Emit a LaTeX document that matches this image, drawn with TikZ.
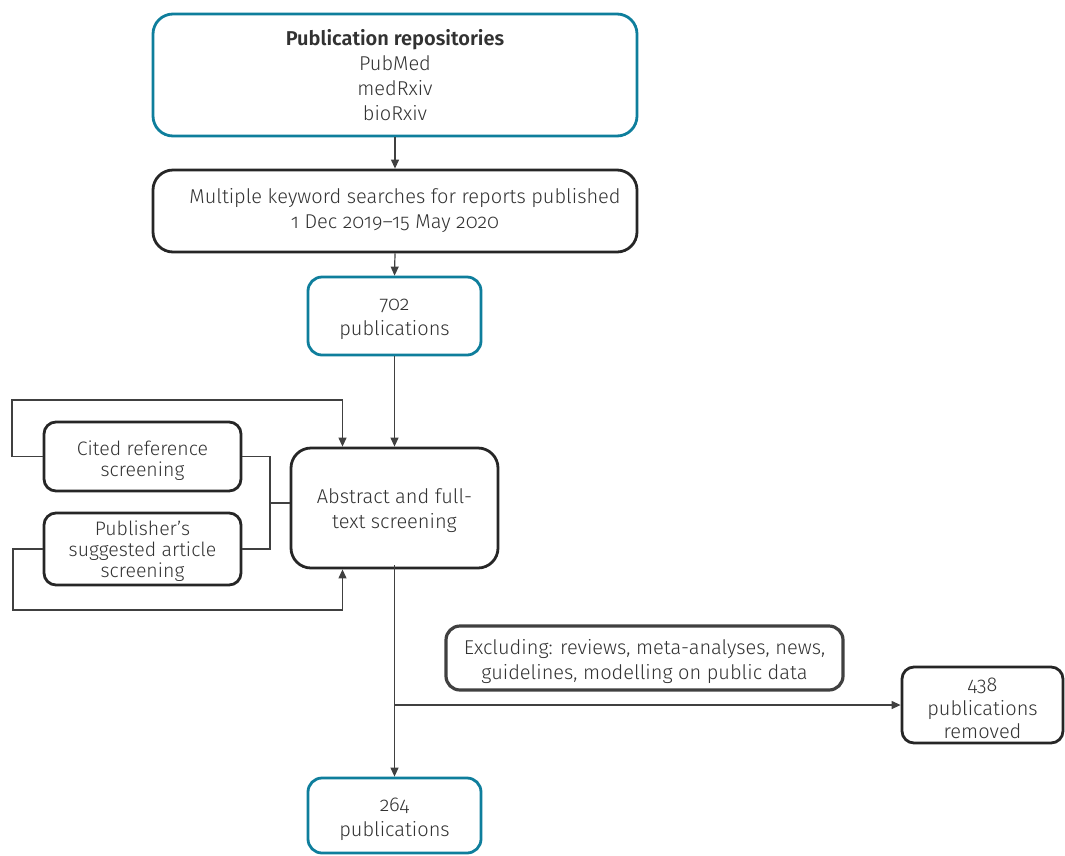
\documentclass[tikz,border=0pt]{standalone}
\usepackage{fontspec}
\setmainfont{Fira Sans Light}[BoldFont={Fira Sans SemiBold},Numbers=OldStyle]
\usetikzlibrary{arrows.meta}
\definecolor{teal1}{RGB}{14,126,156}
\definecolor{txt}{RGB}{50,50,50}
\definecolor{ln}{RGB}{64,64,64}
\newcommand\lw[1][21pt]{\rule{0pt}{#1}}
\tikzset{
  base/.style={draw, rounded corners=20pt, line width=2.8pt, align=center, inner sep=0pt, text=txt,
    font=\fontsize{20}{25}\selectfont},
  tealbox/.style={base, draw=teal1},
  blackbox/.style={base, draw=black!85},
  smallbox/.style={base, draw=black!85, rounded corners=12pt, font=\fontsize{19.5}{21}\selectfont},
  graybox/.style={base, draw=ln, line width=3.2pt, rounded corners=14pt},
  conn/.style={draw=ln, line width=1.2pt},
  arr/.style={conn, -{Triangle[length=9pt,width=8pt]}}
}
\begin{document}
\begin{tikzpicture}[x=1pt,y=-1pt]
\useasboundingbox (0,0) rectangle (1065,855);
\node[tealbox, minimum width=484, minimum height=122] (repo) at (395,75)
  {\textbf{Publication repositories}\\PubMed\\medRxiv\\bioRxiv};
\node[blackbox, minimum width=484, minimum height=82] (kw) at (395,211)
  {\hspace*{20pt}Multiple keyword searches for reports published\\1 Dec 2019--15 May 2020};
\node[tealbox, minimum width=173, minimum height=78, rounded corners=14pt] (p702) at (394.5,316)
  {\lw[19pt]702\\publications};
\node[smallbox, minimum width=197, minimum height=69] (cited) at (142.5,456.5)
  {\lw[22pt]Cited reference\\screening};
\node[smallbox, minimum width=197, minimum height=72] (pub) at (142.5,549)
  {\lw[19pt]Publisher’s\\suggested article\\screening};
\node[blackbox, minimum width=207, minimum height=120] (abs) at (394.5,508)
  {\lw Abstract and full-\\text screening};
\node[graybox, minimum width=397, minimum height=64] (excl) at (644.5,658)
  {\lw[22pt]Excluding: reviews, meta-analyses, news,\\guidelines, modelling on public data};
\node[smallbox, minimum width=161, minimum height=76, font=\fontsize{20}{23.5}\selectfont] (rem) at (982.5,705)
  {\lw 438\\publications\\removed};
\node[tealbox, minimum width=173, minimum height=75, rounded corners=14pt] (p264) at (394.5,815.5)
  {\lw[22pt]264\\publications};
% main flow
\draw[arr] (repo.south) -- (kw.north);
\draw[arr] (kw.south) -- (p702.north);
\draw[arr] (p702.south) -- (abs.north);
% loops
\coordinate (L1) at (12,400);
\coordinate (L2) at (13,610);
\draw[arr] (cited.west) -| (L1) -| ([xshift=-52pt]abs.north);
\draw[arr] (pub.west) -| (L2) -| ([xshift=-52pt]abs.south);
\coordinate (B) at (270,503);
\draw[conn] (cited.east) -| (B) |- (pub.east);
\draw[conn] (B) -- (abs.west |- B);
% exclusion
\draw[arr] ([yshift=4pt]abs.south) -- (p264.north);
\draw[arr] (abs.south |- rem.west) -- (rem.west);
\end{tikzpicture}
\end{document}
